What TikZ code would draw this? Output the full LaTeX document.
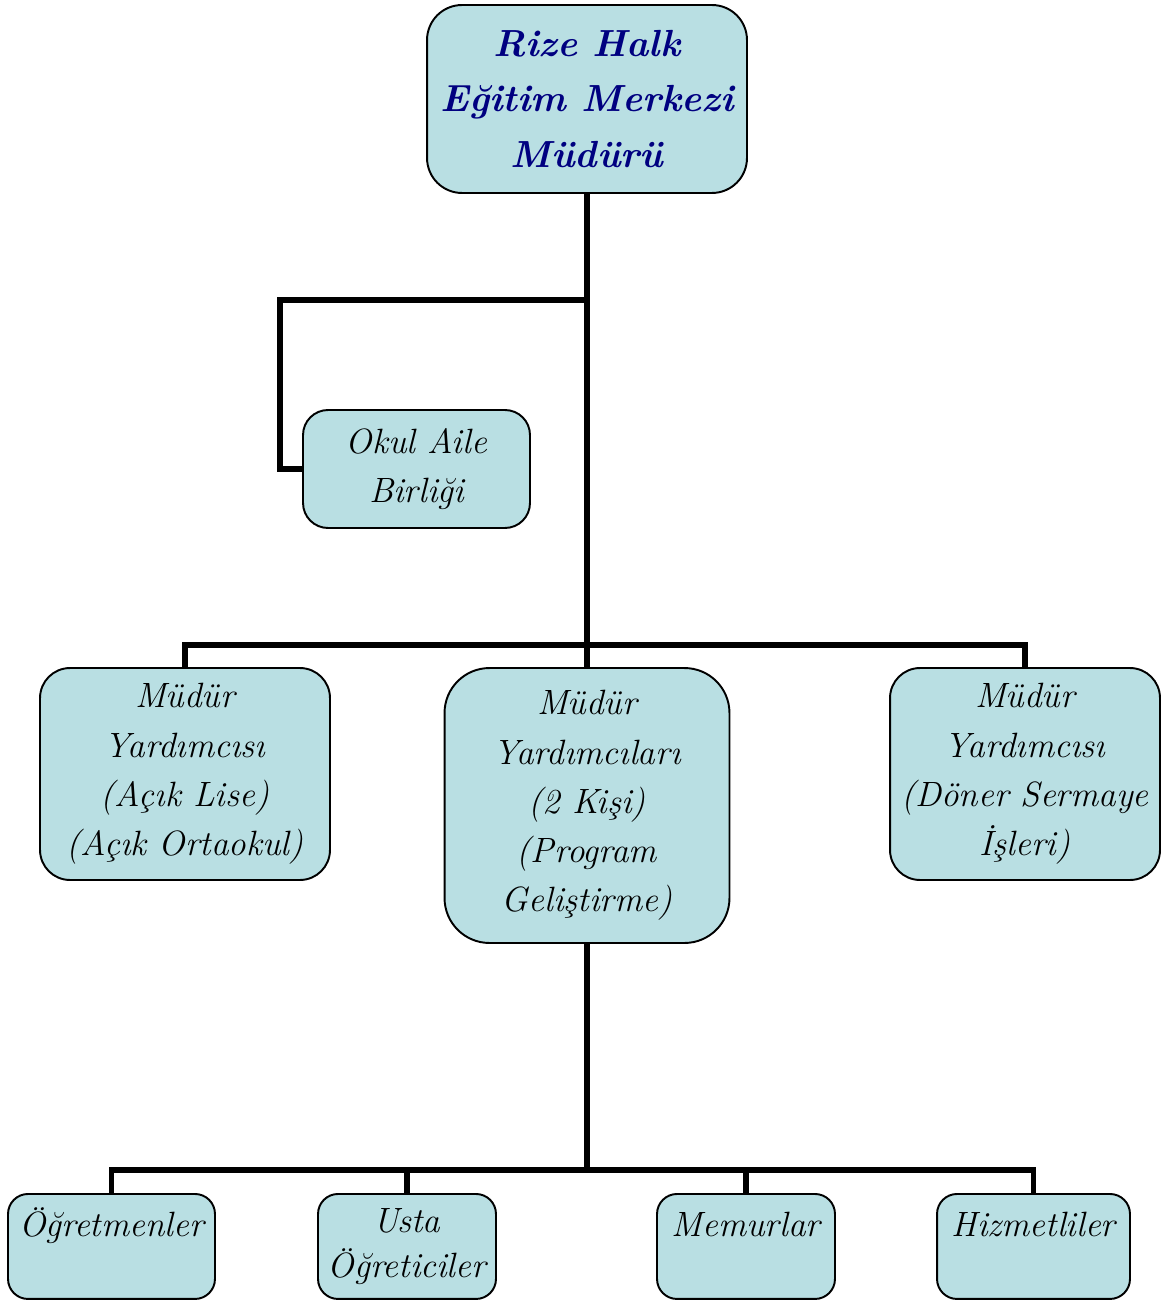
\documentclass[tikz,border=0pt]{standalone}
\usepackage{tikz}
\usetikzlibrary{calc}
\definecolor{boxfill}{RGB}{185,223,227}
\definecolor{titleblue}{RGB}{0,0,128}

\tikzset{
	unitbox/.style = {draw, fill = boxfill, line width = 1.1pt, rounded corners = 0.6cm, align = center, inner sep = 0pt,
		font = \fontsize{20}{28}\selectfont\itshape},
	leafbox/.style = {unitbox, rounded corners = 0.4cm, minimum height = 2.1cm},
	link/.style = {line width = 2.9pt}
}

\begin{document}
\begin{tikzpicture}[x = 0.02cm, y = -0.02cm]
			\useasboundingbox (0,0) rectangle (1166,1300);
			\node[unitbox, minimum width = 6.4cm, minimum height = 3.76cm, rounded corners = 0.7cm,
				font = \fontsize{21.5}{31.5}\selectfont\bfseries\itshape, text = titleblue] (mudur) at (587,99)
				{Rize Halk\\Eğitim Merkezi\\Müdürü};
			\node[unitbox, minimum width = 4.54cm, minimum height = 2.36cm, rounded corners = 0.5cm] (okul) at (416.5,469)
				{Okul Aile\\Birliği};
			\node[unitbox, minimum width = 5.8cm, minimum height = 4.24cm] (acik) at (185,774)
				{Müdür\\Yardımcısı\\(Açık Lise)\\(Açık Ortaokul)};
			\node[unitbox, minimum width = 5.7cm, minimum height = 5.5cm, rounded corners = 0.9cm] (program) at (587,805.5)
				{Müdür\\Yardımcıları\\(2 Kişi)\\(Program\\Geliştirme)};
			\node[unitbox, minimum width = 5.4cm, minimum height = 4.24cm] (doner) at (1025,774)
				{Müdür\\Yardımcısı\\(Döner Sermaye\\İşleri)};
			\begin{scope}[leafbox/.append style = {text height = 24pt, text depth = 35pt}]
				\node[leafbox, minimum width = 4.14cm, anchor = north] (ogretmen) at (111.5,1193) {Öğretmenler};
				\node[leafbox, minimum width = 3.56cm, anchor = north] (memur) at (746,1193) {Memurlar};
				\node[leafbox, minimum width = 3.86cm, anchor = north] (hizmetli) at (1033.5,1193) {Hizmetliler};
			\end{scope}
			\node[leafbox, minimum width = 3.56cm, anchor = north, font = \fontsize{20}{26}\selectfont\itshape] (usta) at (407,1193)
				{Usta\\Öğreticiler};

			\coordinate (okuljoin) at (587,300);
			\coordinate (midbar) at (587,645);
			\coordinate (lowbar) at (587,1170);

			\draw[line width = 3.4pt] (mudur.south) -- (program.north);
			\draw[link] (okuljoin) -- ++(-307,0) |- (okul.west);
			\draw[link] (acik.north) |- (midbar) -| (doner.north);
			\draw[line width = 3.4pt] (program.south) -- (lowbar);
			\draw[link] (ogretmen.north) |- (lowbar) -| (hizmetli.north);
			\draw[link] (usta.north) -- (usta.north |- lowbar);
			\draw[link] (memur.north) -- (memur.north |- lowbar);
		\end{tikzpicture}
\end{document}
